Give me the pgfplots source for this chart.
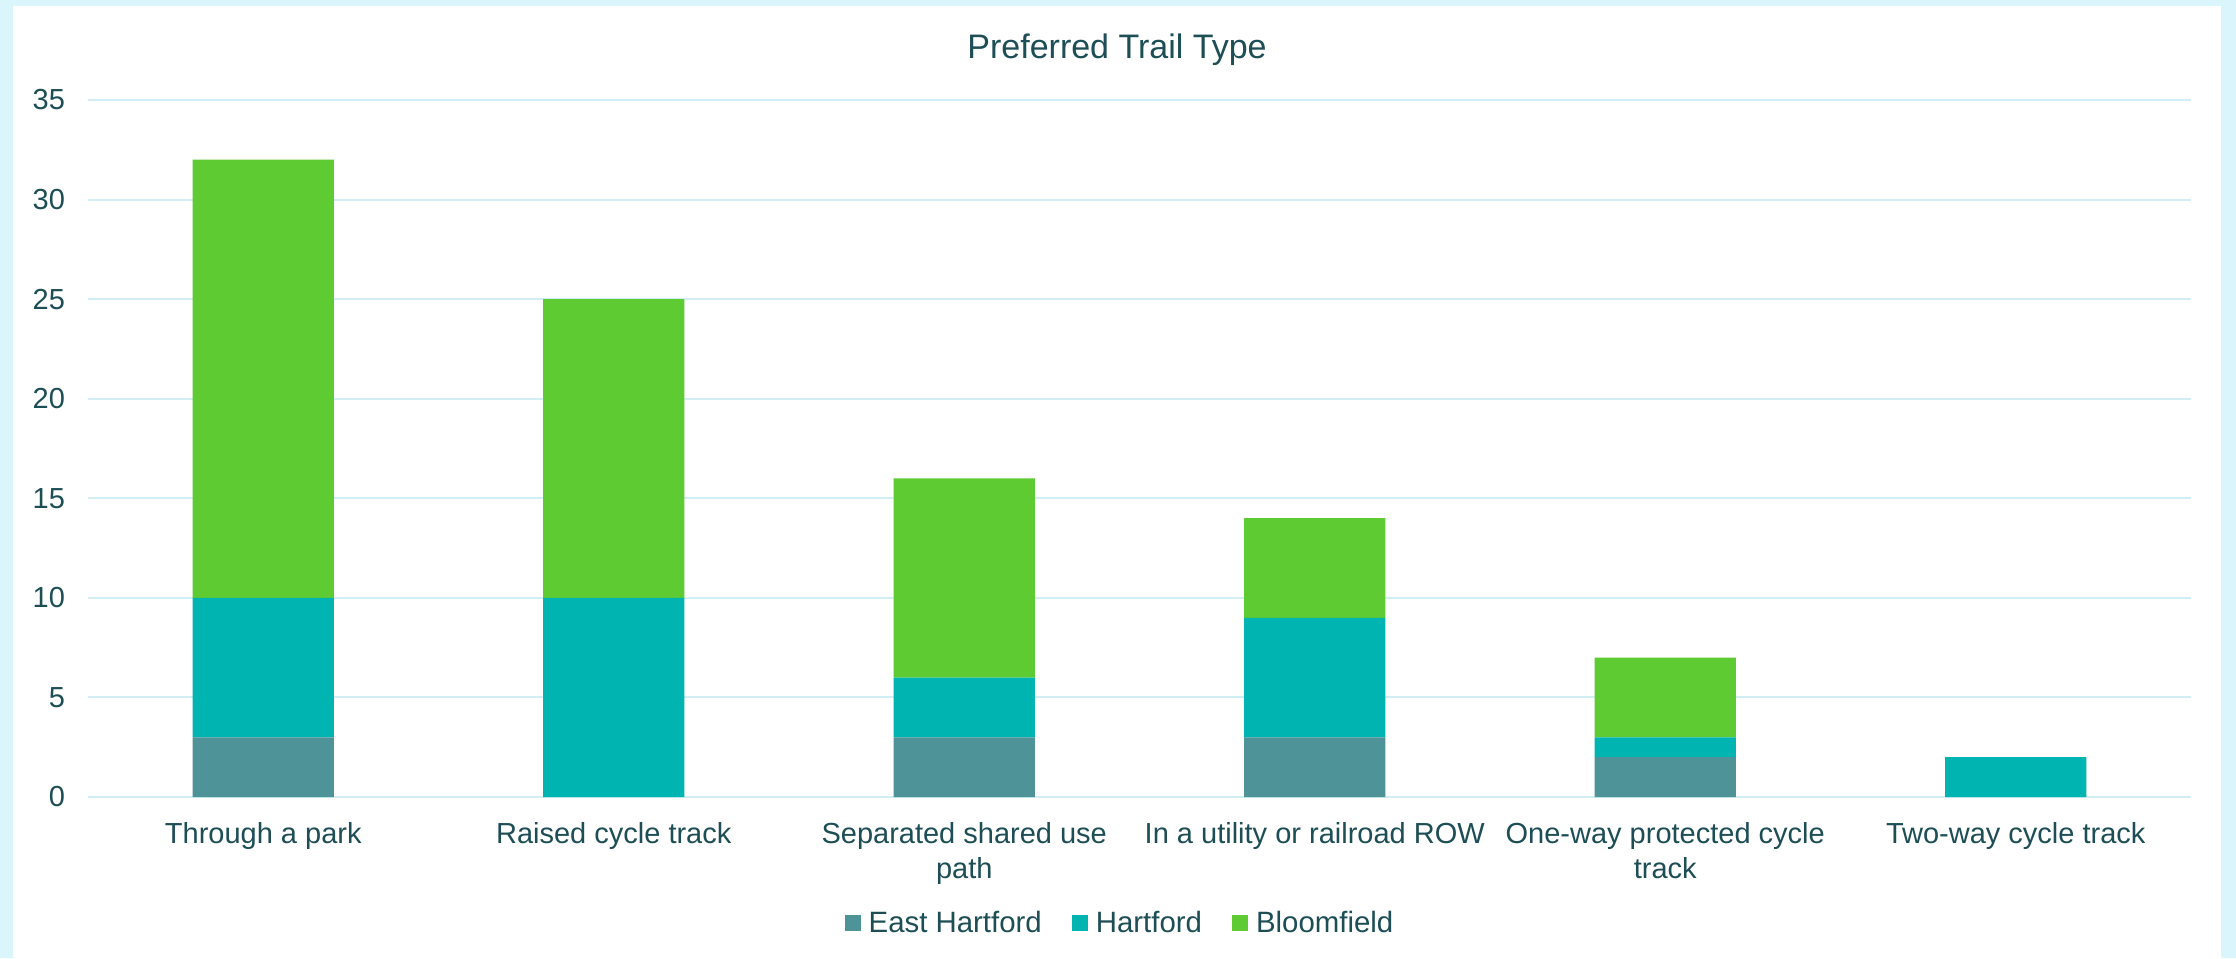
\documentclass[border=0pt]{standalone}
\usepackage{pgfplots}
\pgfplotsset{compat=1.18}
\usepackage{fontspec}
\setmainfont{Liberation Sans}
\definecolor{bgcyan}{HTML}{DAF6FC}
\definecolor{txt}{HTML}{1D4E56}
\definecolor{gridc}{HTML}{D0EEF3}
\definecolor{cEH}{HTML}{4E9398}
\definecolor{cH}{HTML}{00B4B1}
\definecolor{cB}{HTML}{5DCB31}
\begin{document}
\begin{tikzpicture}
\fill[bgcyan] (0pt,0pt) rectangle (1118pt,479pt);
\fill[white] (6.5pt,0pt) rectangle (1110.5pt,476pt);
\node[anchor=base, text=txt, font=\fontsize{17}{20}\selectfont] at (558.5pt,449.5pt) {Preferred Trail Type};
\begin{axis}[
  at={(44pt,80.5pt)}, anchor=south west,
  scale only axis, width=1051.5pt, height=348.5pt,
  ybar stacked, bar width=70.5pt,
  xmin=-0.5, xmax=5.5, ymin=0, ymax=35,
  xtick=data,
  xticklabels={Through a park, Raised cycle track, {Separated shared use\\path}, In a utility or railroad ROW, {One-way protected cycle\\track}, Two-way cycle track},
  ytick={0,5,10,15,20,25,30,35},
  /pgf/number format/assume math mode=true,
  ymajorgrids, grid style={gridc, line width=1pt},
  axis line style={draw=none},
  major tick length=0pt,
  tick label style={text=txt, font=\fontsize{14.5}{17.5}\selectfont},
  xticklabel style={align=center, yshift=-9pt},
  yticklabel style={xshift=-8pt},
  legend columns=3,
  legend style={at={(0.4912,-0.1808)}, anchor=center, draw=none, fill=none,
    font=\fontsize{14.7}{17.5}\selectfont, text=txt,
    /tikz/every odd column/.append style={column sep=2pt},
    /tikz/every even column/.append style={column sep=13pt}},
]
\addplot[fill=cEH, draw=none, legend image code/.code={\fill[cEH] (0pt,-4pt) rectangle (8pt,4pt);}] coordinates {(0,3) (1,0) (2,3) (3,3) (4,2) (5,0)};
\addplot[fill=cH, draw=none, legend image code/.code={\fill[cH] (0pt,-4pt) rectangle (8pt,4pt);}] coordinates {(0,7) (1,10) (2,3) (3,6) (4,1) (5,2)};
\addplot[fill=cB, draw=none, legend image code/.code={\fill[cB] (0pt,-4pt) rectangle (8pt,4pt);}] coordinates {(0,22) (1,15) (2,10) (3,5) (4,4) (5,0)};
\legend{East Hartford, Hartford, Bloomfield}
\end{axis}
\pgfresetboundingbox
\useasboundingbox (0pt,0pt) rectangle (1118pt,479pt);
\end{tikzpicture}
\end{document}
